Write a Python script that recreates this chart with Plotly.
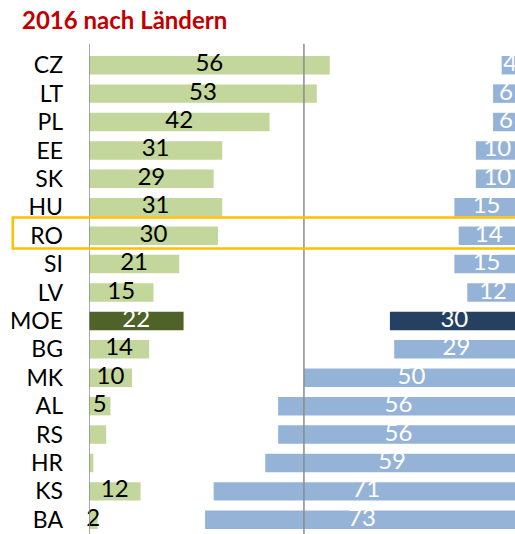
import plotly.graph_objects as go

categories = ["CZ", "LT", "PL", "EE", "SK", "HU", "RO", "SI", "LV", "MOE",
              "BG", "MK", "AL", "RS", "HR", "KS", "BA"]
green_values = [56, 53, 42, 31, 29, 31, 30, 21, 15, 22, 14, 10, 5, 4, 1, 12, 2]
blue_values = [4, 6, 6, 10, 10, 15, 14, 15, 12, 30, 29, 50, 56, 56, 59, 71, 73]
green_labels = ["56", "53", "42", "31", "29", "31", "30", "21", "15", "22",
                "14", "10", "5", "", "", "12", "2"]
blue_labels = [str(v) for v in blue_values]
total = 100
highlight = "RO"
aggregate = "MOE"

FONT = "Lato"
g_light, g_dark = "#C3D69B", "#4F6228"
b_light, b_dark = "#95B3D7", "#254061"

g_colors = [g_dark if c == aggregate else g_light for c in categories]
b_colors = [b_dark if c == aggregate else b_light for c in categories]
g_text_colors = ["white" if c == aggregate else "black" for c in categories]

fig = go.Figure()
fig.add_trace(go.Bar(
    y=categories, x=green_values, orientation="h",
    marker=dict(color=g_colors, line=dict(width=0)),
    width=0.65, hoverinfo="skip", showlegend=False,
))
fig.add_trace(go.Bar(
    y=categories, x=blue_values, base=[total - v for v in blue_values],
    orientation="h",
    marker=dict(color=b_colors, line=dict(width=0)),
    width=0.65, hoverinfo="skip", showlegend=False,
))
fig.add_trace(go.Scatter(
    y=categories, x=[v / 2 for v in green_values], mode="text",
    text=green_labels, textposition="middle center",
    textfont=dict(family=FONT, size=24, color=g_text_colors),
    cliponaxis=False, hoverinfo="skip", showlegend=False,
))
fig.add_trace(go.Scatter(
    y=categories, x=[total - v / 2 for v in blue_values], mode="text",
    text=blue_labels, textposition="middle center",
    textfont=dict(family=FONT, size=24, color="white"),
    cliponaxis=True, hoverinfo="skip", showlegend=False,
))

# axis line and 50% reference line
for xv in [0, 50]:
    fig.add_shape(type="line", xref="x", yref="paper", x0=xv, x1=xv,
                  y0=0, y1=1.015, line=dict(color="#8C8C8C", width=1.5))

hi = categories.index(highlight)
fig.add_shape(type="rect", xref="paper", yref="y",
              x0=-0.179, x1=1.02, y0=hi - 0.64, y1=hi + 0.45,
              line=dict(color="#FFC000", width=2.5))

fig.update_layout(
    width=515, height=534,
    margin=dict(l=89, r=0, t=51, b=0, autoexpand=False),
    paper_bgcolor="white", plot_bgcolor="white",
    barmode="overlay",
    title=dict(text="<b>2016 nach Ländern</b>", xref="container", x=22 / 515,
               xanchor="left", yref="container", y=1 - 21 / 534, yanchor="middle",
               font=dict(family=FONT, size=24, color="#C00000")),
    xaxis=dict(range=[0, 99.1], showgrid=False, zeroline=False, automargin=False,
               showticklabels=False, showline=False, fixedrange=True),
    yaxis=dict(type="category", categoryorder="array", categoryarray=categories,
               range=[16.5, -0.5], showgrid=False, zeroline=False, showline=False,
               automargin=False, ticklabelstandoff=25, fixedrange=True,
               tickfont=dict(family=FONT, size=23, color="black")),
)

fig.write_html(
    "out.html",
    config={"displayModeBar": False, "staticPlot": True},
    post_script="document.body.style.margin='0';document.body.style.overflow='hidden';",
)
